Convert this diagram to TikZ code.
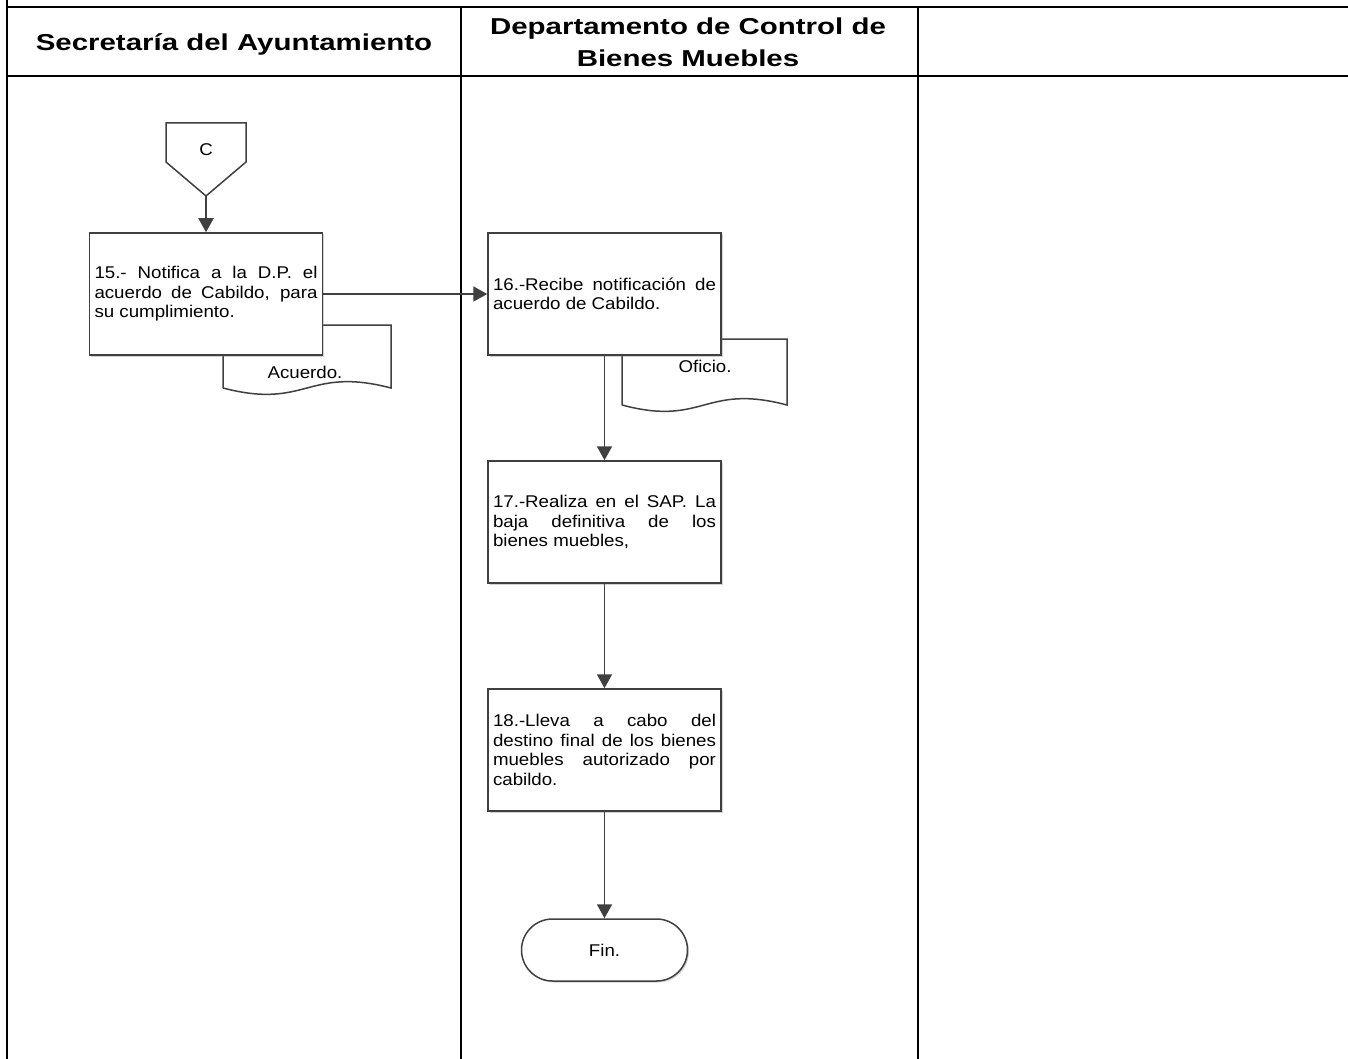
\documentclass[tikz,border=0pt]{standalone}
\usepackage{fontspec}
\setmainfont{Liberation Sans}
\newfontfamily\bodyfont[FakeStretch=1.1]{Liberation Sans}
\newfontfamily\titlefont[FakeStretch=1.28]{Liberation Sans}
\usepackage{tikz}
\usetikzlibrary{arrows.meta}
\usetikzlibrary{shadows}
\usepackage{xcolor}
\definecolor{linegray}{HTML}{404040}

\begin{document}
\begin{tikzpicture}[
    x=1pt, y=-1pt,
    lane/.style={line width=1.6pt, black},
    header/.style={line width=2.8pt, black},
    title/.style={font=\titlefont\fontsize{23}{32}\selectfont\bfseries, align=center},
    label/.style={font=\bodyfont\fontsize{17}{19.5}\selectfont},
    box/.style={rectangle, draw=linegray, line width=1.5pt, fill=white, text width=223pt, minimum height=122pt,
        inner xsep=5pt, align=justify, label,
        drop shadow={shadow xshift=1.5pt, shadow yshift=-1.5pt, opacity=0.35}},
    doc/.style={draw=linegray, line width=1.5pt, fill=white},
    endbox/.style={rectangle, rounded corners=31pt, draw=linegray, line width=1.5pt, fill=white,
        minimum width=166pt, minimum height=62pt, label,
        drop shadow={shadow xshift=1.5pt, shadow yshift=-1.5pt, opacity=0.35}},
    arrow/.style={-{Triangle[width=15pt,length=14pt]}, line width=1.9pt, linegray}
]
    \useasboundingbox (0,0) rectangle (1348,1059);

    % Lanes
    \draw[lane] (7,0) -- (7,1059);
    \draw[lane] (461,7) -- (461,1059);
    \draw[lane] (918,7) -- (918,1059);
    \draw[header] (7,7) -- (1348,7);
    \draw[header] (7,76) -- (1348,76);
    \node[title] (lane1) at (234,44) {Secretaría del Ayuntamiento};
    \node[title] (lane2) at (688,42) {Departamento de Control de\\Bienes Muebles};

    % Off-page connector
    \draw[doc] (166,123) -- (246,123) -- (246,162) -- (206,196) -- (166,162) -- cycle;
    \node[label] (connC) at (206,150) {C};
    \coordinate (ctip) at (206,196);

    % Documents
    \draw[doc] (223,388) -- (223,325) -- (391,325) -- (391,388)
        .. controls (307,366) and (307,410) .. (223,388);
    \node[label] (acuerdo) at (305,372) {Acuerdo.};
    \draw[doc] (622,405) -- (622,339) -- (787,339) -- (787,405)
        .. controls (704,383) and (704,427) .. (622,405);
    \node[label] (oficio) at (705,366) {Oficio.};

    % Steps
    \node[box] (box15) at (206,294) {15.- Notifica a la D.P. el\linebreak acuerdo de Cabildo, para\linebreak su cumplimiento.};
    \node[box] (box16) at (604.5,294) {16.-Recibe notificación de\linebreak acuerdo de Cabildo.};
    \node[box] (box17) at (604.5,522) {17.-Realiza en el SAP. La\linebreak baja definitiva de los\linebreak bienes muebles,};
    \node[box] (box18) at (604.5,750) {18.-Lleva a cabo del\linebreak destino final de los bienes\linebreak muebles autorizado por\linebreak cabildo.};
    \node[endbox] (fin) at (604.5,950) {Fin.};

    % Flow
    \draw[arrow] (ctip) -- (box15);
    \draw[arrow] (box15) -- (box16);
    \draw[arrow] (box16) -- (box17);
    \draw[arrow] (box17) -- (box18);
    \draw[arrow] (box18) -- (fin);
\end{tikzpicture}
\end{document}
